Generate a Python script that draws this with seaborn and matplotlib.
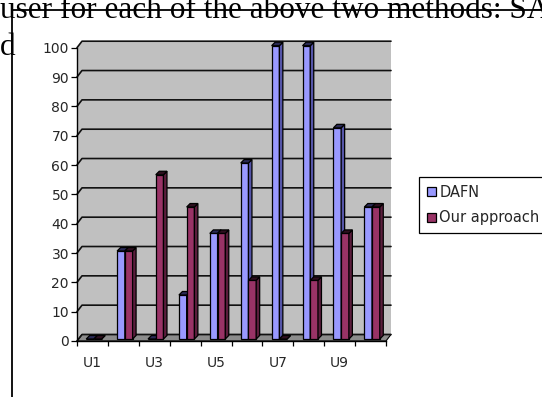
import numpy as np
import pandas as pd
import seaborn as sns
import matplotlib.pyplot as plt
from matplotlib.patches import Polygon, Patch
from matplotlib.lines import Line2D
from matplotlib.transforms import offset_copy

# ---- data -------------------------------------------------------------
users = ["U1", "U2", "U3", "U4", "U5", "U6", "U7", "U8", "U9", "U10"]
dafn = [0, 30, 0, 15, 36, 60, 100, 100, 72, 45]
ours = [0, 30, 56, 45, 36, 20, 0, 20, 36, 45]
methods = ["DAFN", "Our approach"]
tick_labels = ["U1", "", "U3", "", "U5", "", "U7", "", "U9", ""]
y_ticks = list(range(0, 101, 10))

df = pd.DataFrame({
    "user": users * 2,
    "score": dafn + ours,
    "method": [methods[0]] * len(users) + [methods[1]] * len(users),
})

# ---- styling ----------------------------------------------------------
W, H = 542, 397
FRONT = ["#9999FF", "#993366"]
SIDE = ["#5555A8", "#5A1D3C"]
TOP = ["#2A2A55", "#2E0F1F"]
WALL_C = "#C0C0C0"
FLOOR_C = "#8C8C8C"
WALL_OFF = (5.0, 6.5)     # depth of walls, pixels (right, up)
BAR_SHIFT = (1.5, 2.0)    # bars sit a little behind the front plane
BAR_DEPTH = (3.5, 3.5)

sns.set_theme(style="white")
plt.rcParams["font.family"] = ["DejaVu Sans"]

fig = plt.figure(figsize=(W / 100, H / 100), dpi=100)
fig.patch.set_facecolor("white")


def fy(ypx):
    return (H - ypx) / H


# document text around the embedded chart (runs off the page edges)
fig.text(0.0, fy(18), "user for each of the above two methods: SA",
         family="Liberation Serif", size=22.5, va="baseline", ha="left", color="black")
fig.text(0.0, fy(55), "d", family="Liberation Serif", size=22.5,
         va="baseline", ha="left", color="black")
fig.add_artist(Line2D([12 / W, 12 / W], [fy(10), 0], color="black", lw=1.3,
                      transform=fig.transFigure))
fig.add_artist(Line2D([12 / W, 1], [fy(10), fy(10)], color="black", lw=1.3,
                      transform=fig.transFigure))

L, R, Y0, Y100 = 77, 386, 341, 47.7
ax = fig.add_axes([L / W, fy(Y0), (R - L) / W, (Y0 - Y100) / H])
ax.patch.set_visible(False)

sns.barplot(data=df, x="user", y="score", hue="method", hue_order=methods,
            palette=FRONT, width=0.5, edgecolor="black", linewidth=0.9,
            ax=ax, legend=False, saturation=1)
bars = list(ax.patches)
ax.set_xlim(-0.5, 9.5)
ax.set_ylim(0, 100)
ax.set_autoscale_on(False)

tf = fig.transFigure


def to_fig(pts):
    """display pixel coordinates -> figure fraction"""
    pts = np.asarray(pts, dtype=float)
    return np.column_stack([pts[:, 0] / W, pts[:, 1] / H])


def disp(x, y):
    return ax.transData.transform((x, y))


ox, oy = WALL_OFF
# back wall, side wall and floor
fl, fr = disp(-0.5, 0), disp(9.5, 0)
tl = disp(-0.5, 100)
back = [(fl[0] + ox, fl[1] + oy), (fr[0] + ox, fr[1] + oy),
        (fr[0] + ox, tl[1] + oy), (fl[0] + ox, tl[1] + oy)]
side = [fl, (fl[0] + ox, fl[1] + oy), (tl[0] + ox, tl[1] + oy), tl]
floor = [fl, fr, (fr[0] + ox, fr[1] + oy), (fl[0] + ox, fl[1] + oy)]
for poly, c in [(back, WALL_C), (side, WALL_C)]:
    ax.add_artist(Polygon(to_fig(poly), closed=True, facecolor=c, edgecolor="none",
                          transform=tf, zorder=0.1, clip_on=False))
ax.add_artist(Polygon(to_fig(floor), closed=True, facecolor=FLOOR_C, edgecolor="black",
                      lw=0.8, transform=tf, zorder=0.2, clip_on=False))

# gridlines across side wall and back wall
for v in y_ticks:
    a = disp(-0.5, v)
    b = (a[0] + ox, a[1] + oy)
    c = (disp(9.5, v)[0] + ox, a[1] + oy)
    ax.add_artist(Line2D(*to_fig([a, b, c]).T, color="#111111", lw=1.2,
                         transform=tf, zorder=0.5, clip_on=False))

# extrude the bars: shift the front face, then add side and top faces
shift = offset_copy(ax.transData, fig=fig, x=BAR_SHIFT[0], y=BAR_SHIFT[1], units="dots")
n = len(users)
dx, dy = BAR_DEPTH
for i, p in enumerate(bars):
    k = 0 if i < n else 1
    z = 3 + k * 0.5
    p.set_transform(shift)
    p.set_clip_on(False)
    p.set_zorder(z)
    x0, w, h = p.get_x(), p.get_width(), p.get_height()
    TLp = disp(x0, h) + np.array(BAR_SHIFT)
    TRp = disp(x0 + w, h) + np.array(BAR_SHIFT)
    BRp = disp(x0 + w, 0) + np.array(BAR_SHIFT)
    side_f = [BRp, TRp, TRp + (dx, dy), BRp + (dx, dy)]
    top_f = [TLp, TRp, TRp + (dx, dy), TLp + (dx, dy)]
    ax.add_artist(Polygon(to_fig(side_f), closed=True, facecolor=SIDE[k], edgecolor="black",
                          lw=0.9, transform=tf, zorder=z + 0.1, clip_on=False))
    ax.add_artist(Polygon(to_fig(top_f), closed=True, facecolor=TOP[k], edgecolor="black",
                          lw=0.9, transform=tf, zorder=z + 0.2, clip_on=False))

# axes
for s in ["top", "right"]:
    ax.spines[s].set_visible(False)
for s in ["left", "bottom"]:
    ax.spines[s].set_color("black")
    ax.spines[s].set_linewidth(1.0)
    ax.spines[s].set_zorder(2.5)

ax.set_yticks(y_ticks)
ax.set_yticklabels([str(v) for v in y_ticks])
ax.set_xticks(range(n))
ax.set_xticklabels(tick_labels)
ax.set_xticks(np.arange(-0.5, n, 1.0), minor=True)
ax.tick_params(axis="y", which="major", direction="out", length=4.3, width=0.9,
               color="black", labelsize=10, pad=1.5, left=True)
ax.tick_params(axis="x", which="major", length=0, labelsize=10, pad=11)
ax.tick_params(axis="x", which="minor", direction="out", length=3.6, width=0.9,
               color="black", bottom=True)
ax.set_xlabel("")
ax.set_ylabel("")

handles = [Patch(facecolor=FRONT[0], edgecolor="black", lw=0.9),
           Patch(facecolor=FRONT[1], edgecolor="black", lw=0.9)]
leg = ax.legend(handles, methods, loc="upper left",
                bbox_to_anchor=(419 / W, fy(176.5)), bbox_transform=fig.transFigure,
                frameon=True, fancybox=False, edgecolor="black", framealpha=1,
                fontsize=10.5, handlelength=0.6, handleheight=0.6, handletextpad=0.25,
                borderpad=0.55, labelspacing=0.75, borderaxespad=0)
leg.get_frame().set_linewidth(0.9)

fig.savefig("out.png", dpi=100)
